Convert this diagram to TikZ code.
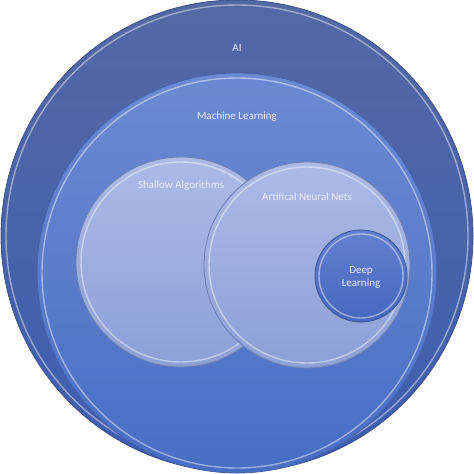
\documentclass[tikz,border=0pt]{standalone}
\usepackage{fontspec}
\setmainfont{Carlito}
\begin{document}
\begin{tikzpicture}[x=1pt,y=-1pt,
  lbl/.style={text=white!92!blue, font=\fontsize{11}{13}\selectfont, align=center, inner sep=0pt},
  aicirc/.style={circle, minimum size=472pt, inner sep=0pt, top color=aitop, bottom color=aibot, draw=aiedge, line width=0.8pt},
  mlcirc/.style={circle, minimum size=400pt, inner sep=0pt, top color=mltop, bottom color=mlbot, draw=mledge, line width=0.8pt},
  subcirc/.style={circle, inner sep=0pt, top color=subtop, bottom color=subbot, draw=subedge, line width=0.8pt},
  dlcirc/.style={circle, minimum size=92pt, inner sep=0pt, top color=dltop, bottom color=dlbot, draw=dledge, line width=0.8pt},
  bevel/.style={draw=white, line width=1.4pt, opacity=0.45}
]
\definecolor{aitop}{RGB}{84,104,164}
\definecolor{aibot}{RGB}{60,94,176}
\definecolor{aiedge}{RGB}{60,80,140}
\definecolor{mltop}{RGB}{108,138,210}
\definecolor{mlbot}{RGB}{72,110,196}
\definecolor{mledge}{RGB}{70,96,170}
\definecolor{subtop}{RGB}{172,186,230}
\definecolor{subbot}{RGB}{140,160,215}
\definecolor{subedge}{RGB}{110,126,176}
\definecolor{dltop}{RGB}{100,128,208}
\definecolor{dlbot}{RGB}{70,104,190}
\definecolor{dledge}{RGB}{60,84,150}
\useasboundingbox (0,0) rectangle (474,474);
\node[aicirc] (ai) at (237,236) {};
\draw[bevel] (ai.center) circle (231);
\node[mlcirc] (ml) at (237,273) {};
\draw[bevel] (ml.center) circle (195);
\node[subcirc, minimum size=210pt] (sa) at (181,262) {};
\draw[bevel] (sa.center) circle (100);
\node[subcirc, minimum size=206pt] (ann) at (307,265) {};
\draw[bevel] (ann.center) circle (98);
\node[dlcirc] (dl) at (361,276) {};
\draw[bevel] (dl.center) circle (42);
\node[lbl] (ailbl) at (237,48) {AI};
\node[lbl] (mllbl) at (237,117) {Machine Learning};
\node[lbl] (salbl) at (181,186) {Shallow Algorithms};
\node[lbl] (annlbl) at (307,197) {Artifical Neural Nets};
\node[lbl] (dllbl) at (361,277) {Deep\\Learning};
\end{tikzpicture}
\end{document}
